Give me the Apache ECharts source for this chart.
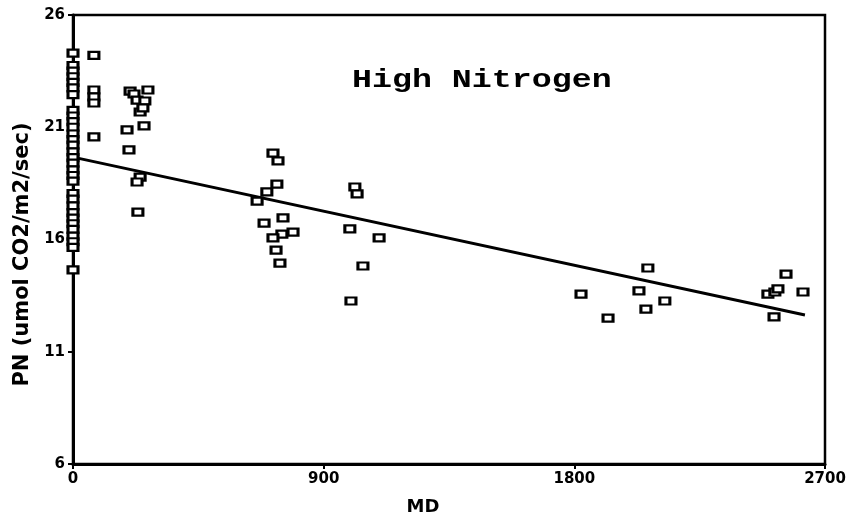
<!DOCTYPE html>
<html>
<head>
<meta charset="utf-8">
<script src="https://cdn.jsdelivr.net/npm/echarts@6/dist/echarts.min.js"></script>
<style>html,body{margin:0;padding:0;background:#fff;}#c{width:852px;height:522px;}</style>
</head>
<body>
<div id="c"></div>
<script>
// Observed data: MD (x) and PN (y)
var mdValues = [
  0,0,0,0,0,0,0,0,0,0,0,0,0,0,0,0,0,0,0,0,0,0,0,0,0,0,0,0,0,0,0,
  75,75,75,75,75,
  205,219,230,269,258,241,251,194,255,201,241,230,233,
  718,736,732,696,661,686,754,790,750,718,729,743,
  1012,1020,994,1099,1041,998,
  1824,1921,2032,2064,2057,2125,2495,2520,2531,2560,2621,2517
];
var pnValues = [
  24.3,23.75,23.5,23.25,23.0,22.75,22.45,21.75,21.5,21.25,21.0,20.7,20.45,20.2,19.9,19.65,19.4,19.1,18.85,18.6,18.05,17.8,17.5,17.2,16.95,16.7,16.45,16.15,15.9,15.65,14.65,
  24.2,22.66,22.35,22.08,20.57,
  22.61,22.48,22.21,22.66,22.17,21.68,21.86,20.88,21.06,19.99,18.78,18.56,17.22,
  19.85,19.5,18.47,18.12,17.71,16.73,16.96,16.33,16.24,16.07,15.53,14.95,
  18.34,18.03,16.47,16.07,14.82,13.26,
  13.57,12.5,13.71,14.73,12.9,13.26,13.57,13.66,13.8,14.46,13.66,12.55
];
// Fitted regression line end points
var fitX = [0, 2628];
var fitY = [19.67, 12.64];
var xTicks = [0, 900, 1800, 2700];
var yTicks = [6, 11, 16, 21, 26];
var titleText = 'High Nitrogen';
var xName = 'MD';
var yName = 'PN (umol CO2/m2/sec)';

var points = mdValues.map(function (x, i) { return [x, pnValues[i]]; });
var fitLine = fitX.map(function (x, i) { return [x, fitY[i]]; });

var chart = echarts.init(document.getElementById('c'));
var labelFont = {color: '#000', fontFamily: 'DejaVu Sans', fontWeight: 'bold', fontSize: 15};
chart.setOption({
  backgroundColor: '#fff',
  animation: false,
  grid: {left: 73, right: 27, top: 15, bottom: 58, show: true, borderColor: '#000', borderWidth: 2.5, backgroundColor: 'transparent'},
  graphic: [{
    type: 'text', left: 352, top: 67, scaleX: 1.28,
    style: {text: titleText, font: 'bold 26px "Liberation Mono", monospace', fill: '#000'}
  }],
  xAxis: {
    type: 'value', min: xTicks[0], max: xTicks[xTicks.length - 1], interval: 900,
    name: xName, nameLocation: 'middle', nameGap: 34,
    nameTextStyle: {color: '#000', fontFamily: 'DejaVu Sans', fontWeight: 'bold', fontSize: 18, padding: [0, 52, 0, 0]},
    axisLine: {show: true, lineStyle: {color: '#000', width: 3}},
    axisTick: {show: true, inside: false, length: 5, lineStyle: {color: '#000', width: 2}},
    axisLabel: Object.assign({margin: 8, formatter: function (v) { return String(v); }}, labelFont),
    splitLine: {show: false}
  },
  yAxis: {
    type: 'value', min: yTicks[0], max: yTicks[yTicks.length - 1], interval: 5,
    name: yName, nameLocation: 'middle', nameGap: 38,
    nameTextStyle: {color: '#000', fontFamily: 'DejaVu Sans', fontWeight: 'bold', fontSize: 21, padding: [0, 30, 0, 0]},
    axisLine: {show: true, lineStyle: {color: '#000', width: 3}},
    axisTick: {show: true, inside: false, length: 5, lineStyle: {color: '#000', width: 2}},
    axisLabel: Object.assign({margin: 8, formatter: function (v) { return String(v); }}, labelFont),
    splitLine: {show: false}
  },
  series: [{
    type: 'scatter', data: points, symbol: 'rect', symbolSize: [10, 7],
    itemStyle: {color: '#fff', borderColor: '#000', borderWidth: 2.6, opacity: 1}
  }, {
    type: 'line', data: fitLine, showSymbol: false, symbol: 'none',
    lineStyle: {color: '#000', width: 3}, z: 1
  }]
});
</script>
</body>
</html>
